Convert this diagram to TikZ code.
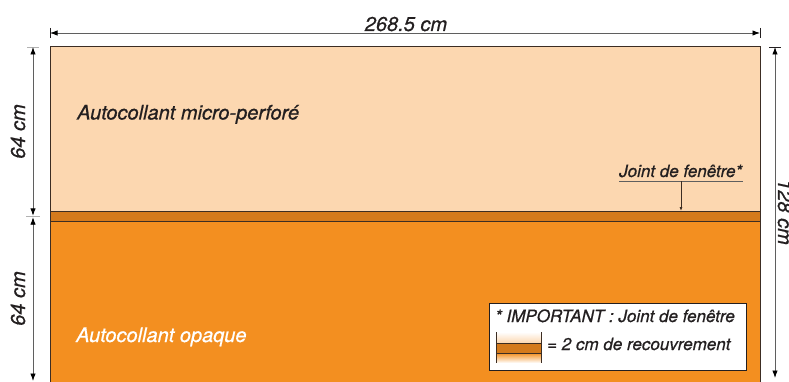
\documentclass[tikz,border=0pt]{standalone}
\usepackage{fontspec}
\setmainfont{TeX Gyre Heros}[ItalicFeatures={FakeBold=0.7}]
\usetikzlibrary{arrows.meta}
\definecolor{peach}{RGB}{252,215,176}
\definecolor{band}{RGB}{212,122,28}
\definecolor{orng}{RGB}{243,143,32}
\definecolor{ink}{RGB}{35,31,32}
\definecolor{dimgray}{RGB}{95,95,95}
\definecolor{edgec}{RGB}{60,45,35}
\begin{document}
\begin{tikzpicture}[x=1pt,y=-1pt,
  lbl/.style={font=\fontsize{20}{21}\selectfont\itshape, inner sep=0pt, text=ink},
  smalllbl/.style={font=\fontsize{17}{18}\selectfont\itshape, inner sep=0pt, text=ink},
  dimline/.style={draw=dimgray, line width=0.9pt,
    {Latex[length=7.5pt,width=5.5pt,color=black]}-{Latex[length=7.5pt,width=5.5pt,color=black]}},
  tickline/.style={draw=gray!60, line width=0.8pt},
  edge/.style={draw=edgec, line width=1pt}]
\useasboundingbox (0,0) rectangle (789,382);
\clip (0,0) rectangle (789,382);
\fill[white] (0,0) rectangle (789,382);
% panels
\fill[peach] (50,47) rectangle (760,211);
\fill[band] (50,211) rectangle (760,221);
\fill[orng] (50,221) rectangle (760,395);
\draw[edge] (50,395) -- (50,47) -- (760,47) -- (760,395);
\draw[edge] (50,211) -- (760,211);
\draw[edge] (50,221) -- (760,221);
% top dimension
\coordinate (tL) at (50,33);
\coordinate (tR) at (760,33);
\draw[draw=ink, line width=0.8pt] (50,28) -- (50,38);
\draw[draw=ink, line width=0.8pt] (760,28) -- (760,38);
\draw[dimline] (tL) -- (tR);
\node[lbl, anchor=base] (wlabel) at (406,31) {268.5 cm};
% left dimensions
\coordinate (l1) at (33,47);
\coordinate (l2a) at (33,215.8);
\coordinate (l2b) at (33,217.2);
\coordinate (l3) at (33,381);
\draw[tickline] (27,47) -- (39,47);
\draw[tickline] (26,216.5) -- (40,216.5);
\draw[dimline] (l1) -- (l2a);
\draw[dimline] (l2b) -- (l3);
\node[lbl, rotate=90, anchor=base] (h1) at (25,131.5) {64 cm};
\node[lbl, rotate=90, anchor=base] (h2) at (25,298.5) {64 cm};
% right dimension
\coordinate (r1) at (775,47);
\coordinate (r2) at (775,378);
\draw[draw=ink, line width=0.8pt] (769,47) -- (781,47);
\draw[dimline] (r1) -- (r2);
\node[lbl, rotate=-90, anchor=base] (htot) at (778,212) {128 cm};
% panel labels
\node[lbl, anchor=base west] (micro) at (77,119.5) {Autocollant micro-perforé};
\node[lbl, anchor=base west, text=white] (opaque) at (76,342) {Autocollant opaque};
% joint label
\node[smalllbl, anchor=base west] (joint) at (619,177) {Joint de fenêtre*};
\coordinate (ul1) at (619,181.5);
\coordinate (ul2) at (743,181.5);
\coordinate (jtop) at (681,181.5);
\coordinate (jbot) at (681,211);
\draw[draw=dimgray, line width=0.9pt] (ul1) -- (ul2);
\draw[draw=edgec, line width=0.8pt, -{Latex[length=4pt,width=3pt]}] (jtop) -- (jbot);
% legend
\node[draw=ink, line width=1pt, fill=white, minimum width=257pt, minimum height=67pt,
  anchor=north west, inner sep=0pt] (legend) at (489,303) {};
\shade[top color=white, bottom color=peach] (496,332) rectangle (541,343);
\fill[band] (496,343) rectangle (541,353);
\shade[top color=orng, bottom color=white] (496,353) rectangle (541,363);
\draw[draw=edgec, line width=0.8pt] (496,332) -- (496,363);
\draw[draw=edgec, line width=0.8pt] (541,332) -- (541,363);
\draw[draw=edgec, line width=0.8pt] (496,343) -- (541,343);
\draw[draw=edgec, line width=0.8pt] (496,353) -- (541,353);
\node[smalllbl, anchor=base west] (imp) at (495,322) {* IMPORTANT : Joint de fenêtre};
\node[smalllbl, anchor=base west] (recouv) at (547,350) {= 2 cm de recouvrement};
\end{tikzpicture}
\end{document}
